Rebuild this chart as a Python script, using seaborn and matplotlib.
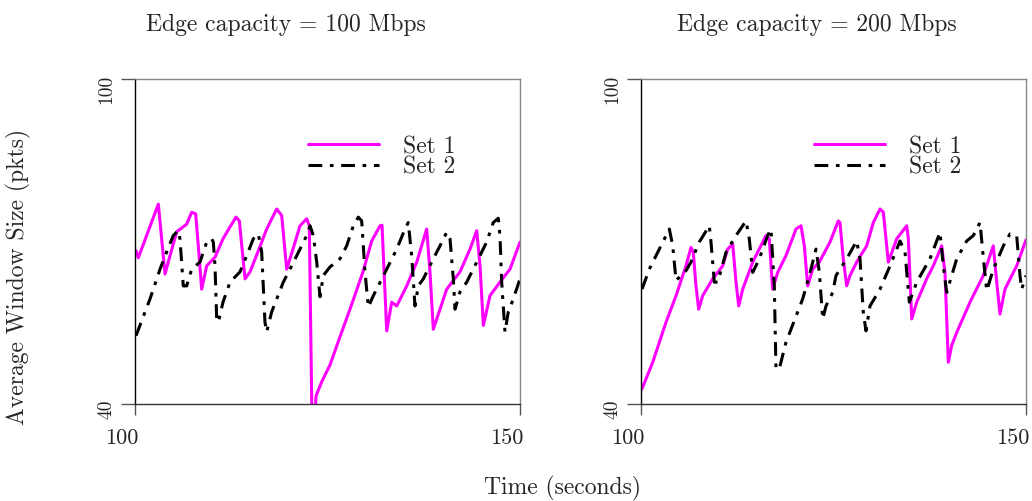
import matplotlib
matplotlib.use("Agg")
import matplotlib.pyplot as plt
import matplotlib.transforms as mtrans
import seaborn as sns
import pandas as pd

# ---- data (time in seconds, window size in pkts) ----
left_set1_t = [100.13, 100.43, 103.03, 103.9, 104.55, 105.42, 106.71, 107.36, 107.88, 108.22, 108.66,
               109.31, 110.39, 111.43, 112.34, 113.12, 113.55, 114.29, 114.94, 115.97, 117.10, 118.40,
               119.05, 119.70, 120.52, 121.43, 122.30, 122.64, 122.95, 123.05, 123.40, 123.51, 124.25,
               125.32, 126.62, 127.92, 129.61, 130.74, 131.82, 132.08, 132.69, 133.34, 133.99, 135.29,
               136.59, 137.88, 138.31, 138.74, 139.61, 140.48, 142.21, 143.51, 144.38, 144.81, 145.24,
               146.10, 147.40, 148.70, 150.0]
left_set1_v = [68.3, 67.0, 76.9, 64.0, 67.4, 71.8, 73.2, 75.4, 75.1, 69.2, 61.2,
               65.5, 67.1, 70.5, 72.7, 74.5, 73.8, 63.1, 64.4, 68.1, 72.3, 76.0,
               74.8, 64.9, 68.6, 72.9, 74.2, 72.9, 40.4, 38.0, 38.0, 41.5, 44.1,
               47.2, 52.4, 57.5, 64.4, 70.1, 72.9, 73.0, 53.5, 58.8, 58.1, 61.8,
               66.2, 72.3, 64.4, 53.8, 57.5, 61.2, 64.4, 68.6, 72.0, 65.5, 54.5,
               60.0, 62.5, 64.9, 69.9]

left_set2_t = [100.13, 101.95, 103.25, 104.12, 104.97, 105.62, 105.84, 106.27, 106.71, 107.36, 108.44,
               109.31, 109.96, 110.17, 110.39, 110.61, 110.82, 111.43, 112.34, 113.64, 114.51, 115.36,
               116.01, 116.45, 116.88, 117.10, 117.75, 119.26, 120.13, 121.43, 122.30, 122.73, 123.16,
               123.60, 124.03, 124.45, 125.32, 126.62, 127.49, 128.35, 129.0, 129.44, 129.87, 130.30,
               130.95, 131.60, 132.69, 133.99, 135.06, 135.49, 135.93, 136.36, 136.79, 137.44, 138.74,
               139.61, 140.48, 140.91, 141.34, 141.56, 142.21, 143.08, 144.38, 145.67, 146.53, 147.18,
               147.40, 147.62, 148.05, 148.48, 149.13, 150.0]
left_set2_v = [52.6, 59.4, 64.9, 68.1, 71.1, 72.0, 70.5, 61.8, 61.8, 64.9, 66.2,
               69.9, 70.5, 69.9, 65.5, 55.7, 55.1, 58.8, 62.5, 64.4, 67.4, 70.5,
               71.4, 68.1, 55.1, 53.3, 57.0, 62.5, 64.9, 68.6, 71.1, 72.9, 71.1,
               66.2, 59.8, 63.7, 65.3, 66.8, 69.2, 72.9, 74.5, 73.8, 64.4, 57.9,
               60.0, 61.8, 64.9, 68.6, 72.3, 73.5, 67.4, 58.1, 61.8, 63.1, 66.8,
               69.2, 71.7, 70.5, 63.1, 57.5, 60.7, 62.5, 66.2, 69.9, 73.5, 74.3,
               71.1, 62.5, 53.3, 57.0, 59.4, 63.1]

right_set1_t = [100.13, 101.52, 103.25, 104.55, 105.84, 106.49, 106.79, 107.14, 107.49, 108.01, 109.31,
                110.61, 111.26, 111.91, 112.34, 112.69, 113.21, 114.51, 116.23, 116.66, 117.10, 117.75,
                118.83, 120.13, 120.78, 121.21, 121.65, 122.30, 123.16, 124.55, 125.62, 125.84, 126.27,
                126.71, 127.14, 128.01, 129.31, 130.17, 131.04, 131.47, 132.12, 133.21, 134.51, 134.72,
                135.16, 135.81, 137.10, 137.96, 139.05, 139.48, 139.91, 140.35, 141.0, 142.73, 144.45,
                145.75, 146.20, 146.62, 147.27, 148.79, 150.0]
right_set1_v = [42.8, 47.7, 55.1, 60.0, 65.5, 68.9, 68.0, 61.8, 57.5, 60.0, 63.1,
                65.5, 68.6, 69.5, 62.5, 58.1, 61.2, 66.2, 71.1, 70.5, 61.2, 64.3,
                67.4, 72.3, 72.9, 69.2, 61.8, 64.9, 66.2, 69.9, 73.8, 73.5, 66.8,
                61.8, 63.7, 66.2, 69.2, 73.5, 76.0, 75.4, 66.2, 70.5, 72.9, 70.5,
                55.7, 58.8, 63.1, 65.5, 69.2, 64.3, 47.7, 50.8, 53.2, 58.8, 63.7,
                69.2, 62.5, 56.6, 61.2, 65.5, 70.3]

right_set2_t = [100.13, 101.08, 102.38, 103.68, 104.12, 104.55, 105.84, 106.49, 107.57, 108.87, 109.09,
                109.52, 109.96, 111.04, 112.34, 113.64, 114.06, 114.51, 115.36, 116.45, 116.88, 117.31,
                117.53, 117.96, 118.83, 121.0, 121.86, 122.73, 123.16, 123.60, 124.03, 124.90, 125.32,
                126.71, 128.01, 128.44, 128.87, 129.22, 129.74, 131.04, 132.34, 133.64, 134.29, 134.85,
                135.81, 137.53, 138.83, 139.26, 139.70, 141.0, 142.30, 143.16, 144.03, 144.47, 144.90,
                145.76, 147.06, 147.92, 148.79, 149.22, 149.44, 150.0]
right_set2_v = [61.2, 64.9, 68.6, 72.3, 69.2, 62.8, 64.6, 66.2, 69.9, 72.9, 69.9,
                62.5, 62.5, 68.0, 71.1, 73.8, 70.5, 64.3, 66.8, 71.1, 72.3, 61.8,
                46.5, 46.5, 51.4, 59.4, 63.7, 68.6, 64.3, 55.7, 58.1, 60.6, 63.7,
                66.8, 70.1, 66.8, 56.9, 53.5, 58.1, 61.2, 65.5, 70.1, 68.0, 58.8,
                62.5, 66.8, 71.7, 65.5, 60.6, 66.8, 70.1, 71.1, 73.5, 66.8, 60.9,
                64.9, 69.2, 71.4, 71.1, 63.7, 61.2, 63.7]

panel_titles = ["Edge capacity = 100 Mbps", "Edge capacity = 200 Mbps"]
series_names = ["Set 1", "Set 2"]
x_ticks = [100, 150]
y_ticks = [40, 100]
x_label = "Time (seconds)"
y_label = "Average Window Size (pkts)"

# ---- style ----
sns.set_style("white")
plt.rcParams["font.family"] = ["cmr10", "DejaVu Serif"]
plt.rcParams["axes.formatter.use_mathtext"] = True
plt.rcParams["mathtext.fontset"] = "cm"

fig = plt.figure(figsize=(10.32, 5.02), dpi=100)
ax_l = fig.add_axes([135 / 1032, 97 / 502, 385 / 1032, 325 / 502])
ax_r = fig.add_axes([641 / 1032, 97 / 502, 385 / 1032, 325 / 502])

panels = [
    (ax_l, left_set1_t, left_set1_v, left_set2_t, left_set2_v),
    (ax_r, right_set1_t, right_set1_v, right_set2_t, right_set2_v),
]

for ax, t1, v1, t2, v2 in panels:
    d1 = pd.DataFrame({"t": t1, "v": v1})
    d2 = pd.DataFrame({"t": t2, "v": v2})
    sns.lineplot(data=d1, x="t", y="v", ax=ax, color="#ff00ff", linewidth=2.2,
                 sort=False, estimator=None, label=series_names[0])
    sns.lineplot(data=d2, x="t", y="v", ax=ax, color="black", linewidth=2.2,
                 sort=False, estimator=None, label=series_names[1])
    ax.lines[1].set_dashes([4.5, 2.5, 1.2, 2.5])
    ax.set_xlim(100, 150)
    ax.set_ylim(40, 100)
    ax.set_xticks(x_ticks)
    ax.set_yticks(y_ticks)
    ax.set_xticklabels([str(x) for x in x_ticks], fontsize=16, ha="right")
    ax.set_yticklabels([str(y) for y in y_ticks], fontsize=14, rotation=90, va="center")
    ax.set_xlabel("")
    ax.set_ylabel("")
    ax.tick_params(axis="both", direction="out", width=1, color="#555555",
                   left=True, bottom=True)
    ax.tick_params(axis="x", length=8, pad=9)
    ax.tick_params(axis="y", length=10, pad=4)
    for side in ["top", "right"]:
        ax.spines[side].set_color("#888888")
        ax.spines[side].set_linewidth(1.0)
    ax.spines["left"].set_color("black")
    ax.spines["bottom"].set_color("#333333")
    ax.spines["left"].set_linewidth(1.0)
    ax.spines["bottom"].set_linewidth(1.0)
    # small offsets to mimic the reference label placement
    for lbl in ax.get_xticklabels():
        lbl.set_transform(lbl.get_transform() + mtrans.ScaledTranslation(3 / 100, 0, fig.dpi_scale_trans))
    ylbls = ax.get_yticklabels()
    ylbls[0].set_transform(ylbls[0].get_transform() + mtrans.ScaledTranslation(0, -4 / 100, fig.dpi_scale_trans))
    ylbls[1].set_transform(ylbls[1].get_transform() + mtrans.ScaledTranslation(0, -9 / 100, fig.dpi_scale_trans))
    ax.legend(loc="upper left", bbox_to_anchor=(0.45, 0.828), frameon=False,
              fontsize=17, handlelength=3.0, handletextpad=1.0,
              labelspacing=-0.05, borderaxespad=0, borderpad=0)

fig.text(286 / 1032, 1 - 25 / 502, panel_titles[0], ha="center", va="center", fontsize=17)
fig.text(817 / 1032, 1 - 25 / 502, panel_titles[1], ha="center", va="center", fontsize=17)
fig.text(563 / 1032, 1 - 488 / 502, x_label, ha="center", va="center", fontsize=17)
fig.text(18 / 1032, 1 - 277 / 502, y_label, ha="center", va="center", rotation=90, fontsize=17)

fig.savefig("out.png", dpi=100)
